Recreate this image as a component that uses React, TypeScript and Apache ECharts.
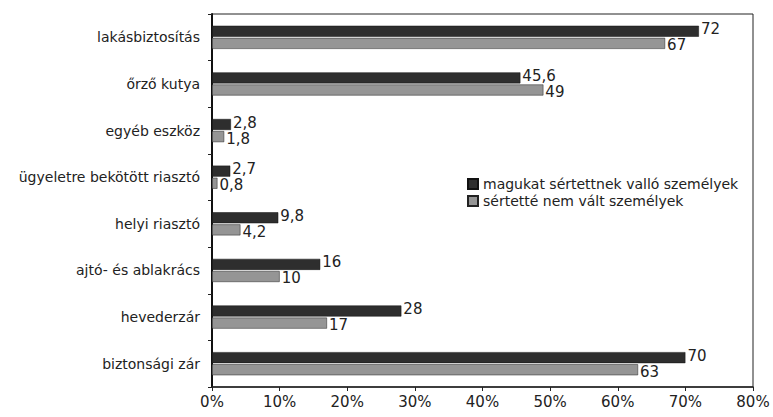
import React, { useEffect, useRef } from "react";
import * as echarts from "echarts";

const categories = [
  "lakásbiztosítás",
  "őrző kutya",
  "egyéb eszköz",
  "ügyeletre bekötött riasztó",
  "helyi riasztó",
  "ajtó- és ablakrács",
  "hevederzár",
  "biztonsági zár",
];
const seriesNames = ["magukat sértettnek valló személyek", "sértetté nem vált személyek"];
const victims = [72, 45.6, 2.8, 2.7, 9.8, 16, 28, 70];
const nonVictims = [67, 49, 1.8, 0.8, 4.2, 10, 17, 63];

const FONT = "'DejaVu Sans', 'Open Sans', sans-serif";

export default function App() {
  const ref = useRef<HTMLDivElement>(null);
  useEffect(() => {
    if (!ref.current) return;
    const chart = echarts.init(ref.current, undefined, { renderer: "svg" });
    const mkLabel = (dy: number) => ({
      show: true,
      position: "right" as const,
      distance: 2,
      offset: [0, dy],
      color: "#222",
      fontSize: 15,
      lineHeight: 14,
      fontFamily: FONT,
      formatter: (p: any) => String(p.value).replace(".", ","),
    });
    chart.setOption({
      animation: false,
      backgroundColor: "#fff",
      grid: {
        left: 212,
        top: 14,
        right: 20,
        bottom: 30,
        show: true,
        borderColor: "#222",
        borderWidth: 1,
        containLabel: false,
      },
      legend: {
        orient: "vertical",
        left: 462,
        top: 172,
        itemWidth: 10,
        itemHeight: 10,
        itemGap: 3,
        icon: "rect",
        textStyle: { fontFamily: FONT, fontSize: 14, color: "#222", padding: [0, 0, 0, 0] },
        data: seriesNames,
      },
      xAxis: {
        type: "value",
        min: 0,
        max: 80,
        interval: 10,
        splitLine: { show: false },
        axisLine: { show: true, lineStyle: { color: "#222", width: 1.5 } },
        axisTick: { show: true, length: 4, lineStyle: { color: "#222" } },
        axisLabel: {
          formatter: "{value}%",
          color: "#222",
          fontSize: 15,
          fontFamily: FONT,
          margin: 7,
        },
      },
      yAxis: {
        type: "category",
        data: categories,
        inverse: true,
        axisLine: { show: true, lineStyle: { color: "#111", width: 2 } },
        axisTick: { show: true, length: 4, lineStyle: { color: "#222" } },
        axisLabel: {
          color: "#222",
          fontSize: 14,
          fontFamily: FONT,
          margin: 12,
        },
      },
      series: [
        {
          name: seriesNames[0],
          type: "bar",
          data: victims,
          barWidth: 11,
          barGap: "10%",
          itemStyle: { color: "#2e2e2e", borderColor: "#111", borderWidth: 0.5 },
          label: mkLabel(-2),
        },
        {
          name: seriesNames[1],
          type: "bar",
          data: nonVictims,
          barWidth: 11,
          barGap: "10%",
          itemStyle: { color: "#959595", borderColor: "#222", borderWidth: 0.5 },
          label: mkLabel(2),
        },
      ],
    });
    return () => chart.dispose();
  }, []);
  return <div ref={ref} style={{ width: 773, height: 417, position: "absolute", left: 0, top: 0 }} />;
}
